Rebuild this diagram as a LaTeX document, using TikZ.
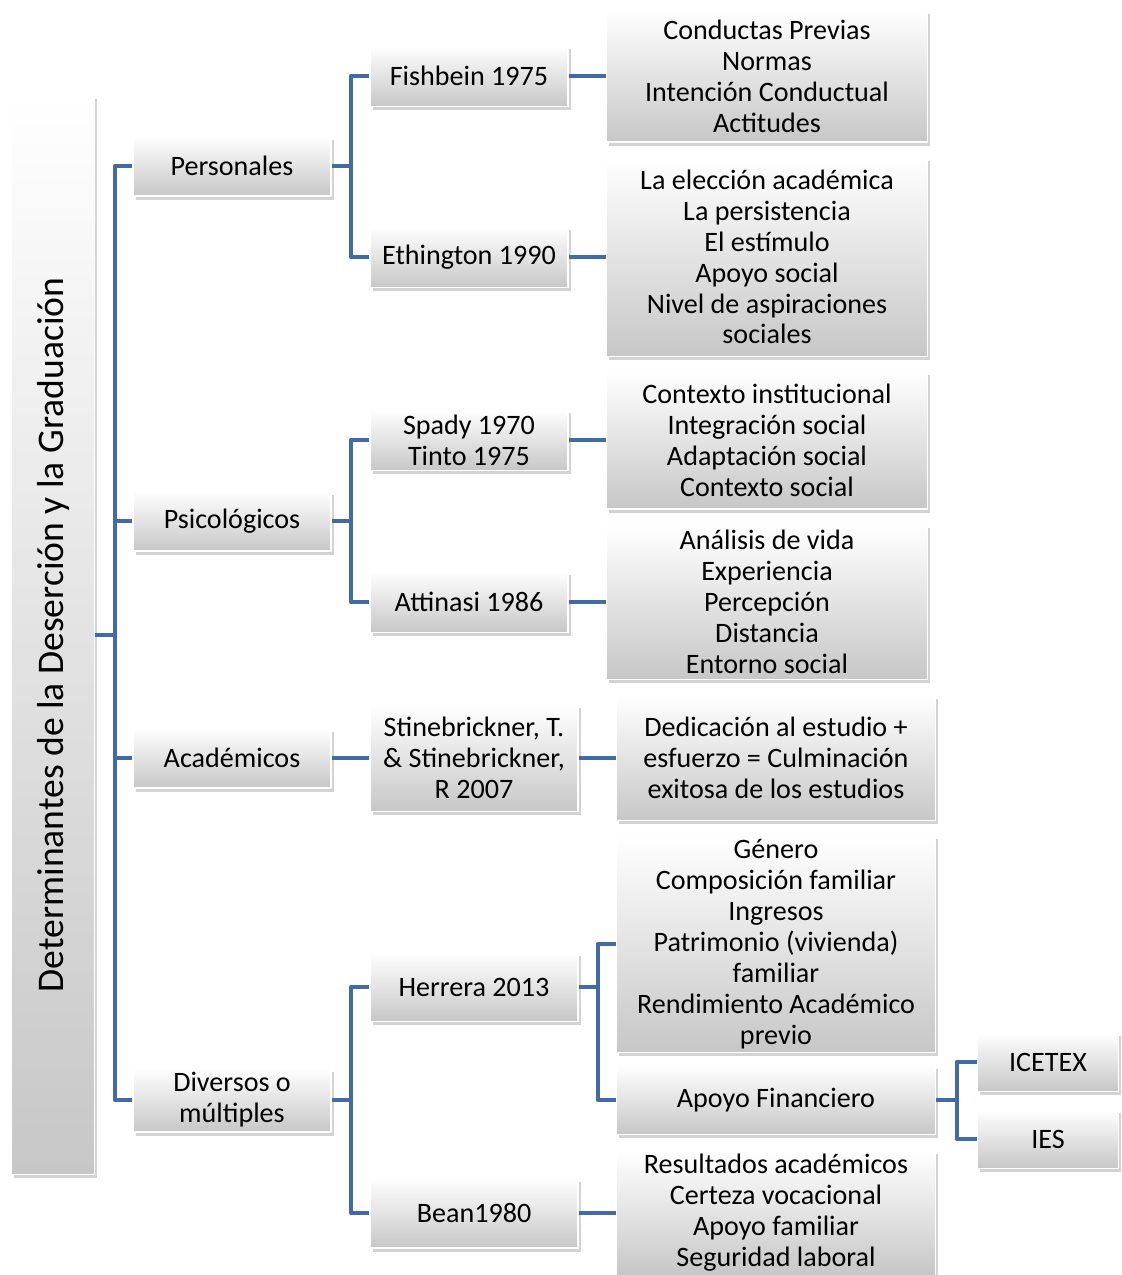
\documentclass[tikz,border=0pt]{standalone}
\usepackage{fontspec}
\setmainfont{Carlito}
\usetikzlibrary{shadows}
\definecolor{linkblue}{RGB}{66,106,166}
\tikzset{
  caja/.style={shape=rectangle, top color=white, bottom color=black!22,
    draw=white, line width=0.6pt, align=center, inner sep=2pt,
    font=\fontsize{16}{17.6}\selectfont,
    drop shadow={opacity=0.35, shadow xshift=1.5pt, shadow yshift=-2pt}},
  enlace/.style={draw=linkblue, line width=2.6pt, line join=round}
}
\begin{document}
\begin{tikzpicture}[x=0.02cm,y=-0.02cm]
\useasboundingbox (0,0) rectangle (1122,1275);
% raiz
\node[caja, rotate=90, minimum width=21.6cm, minimum height=1.66cm,
  font=\fontsize{21.4}{23}\selectfont] (raiz) at (53,635)
  {Determinantes de la Deserción y la Graduación};
% primer nivel
\node[caja, minimum width=3.96cm, minimum height=1.2cm] (pers) at (232,166) {Personales};
\node[caja, minimum width=3.96cm, minimum height=1.2cm] (psic) at (232,521) {Psicológicos};
\node[caja, minimum width=3.96cm, minimum height=1.2cm] (acad) at (232,758) {Académicos};
\node[caja, minimum width=3.96cm, minimum height=1.28cm] (div) at (232,1100) {Diversos o\\múltiples};
% segundo nivel
\node[caja, minimum width=3.96cm, minimum height=1.22cm] (fish) at (469,76) {Fishbein 1975};
\node[caja, minimum width=3.96cm, minimum height=1.22cm] (eth) at (469,257) {Ethington 1990};
\node[caja, minimum width=3.96cm, minimum height=1.22cm] (spady) at (469,440) {Spady 1970\\Tinto 1975};
\node[caja, minimum width=3.96cm, minimum height=1.22cm] (att) at (469,602) {Attinasi 1986};
\node[caja, minimum width=4.16cm, minimum height=2.14cm] (stine) at (474,758) {Stinebrickner, T.\\\& Stinebrickner,\\R 2007};
\node[caja, minimum width=4.16cm, minimum height=1.38cm] (herr) at (474,987) {Herrera 2013};
\node[caja, minimum width=4.16cm, minimum height=1.4cm] (bean) at (474,1213) {Bean1980};
% tercer nivel
\node[caja, minimum width=6.42cm, minimum height=2.64cm] (cond) at (767,76)
  {Conductas Previas\\Normas\\Intención Conductual\\Actitudes};
\node[caja, minimum width=6.42cm, minimum height=3.98cm] (elec) at (767,257)
  {La elección académica\\La persistencia\\El estímulo\\Apoyo social\\Nivel de aspiraciones\\sociales};
\node[caja, minimum width=6.42cm, minimum height=2.76cm] (ctx) at (767,440)
  {Contexto institucional\\Integración social\\Adaptación social\\Contexto social};
\node[caja, minimum width=6.42cm, minimum height=3.1cm] (anal) at (767,602)
  {Análisis de vida\\Experiencia\\Percepción\\Distancia\\Entorno social};
\node[caja, minimum width=6.38cm, minimum height=2.5cm] (dedic) at (776,758)
  {Dedicación al estudio +\\esfuerzo = Culminación\\exitosa de los estudios};
\node[caja, minimum width=6.38cm, minimum height=4.24cm] (gen) at (776,944)
  {Género\\Composición familiar\\Ingresos\\Patrimonio (vivienda)\\familiar\\Rendimiento Académico\\previo};
\node[caja, minimum width=6.38cm, minimum height=1.38cm] (apoyo) at (776,1100) {Apoyo Financiero};
\node[caja, minimum width=6.38cm, minimum height=2.46cm] (res) at (776,1213)
  {Resultados académicos\\Certeza vocacional\\Apoyo familiar\\Seguridad laboral};
% cuarto nivel
\node[caja, minimum width=2.82cm, minimum height=1.18cm] (icetex) at (1048,1062) {ICETEX};
\node[caja, minimum width=2.82cm, minimum height=1.18cm] (ies) at (1048,1139) {IES};
% conexiones
\coordinate (j0) at (115,635);
\coordinate (j1) at (351,166);
\coordinate (j2) at (351,521);
\coordinate (j3) at (351,1100);
\coordinate (j4) at (598,987);
\coordinate (j5) at (957,1100);
\draw[enlace] (raiz.south) -- (j0);
\foreach \n in {pers,psic,acad,div}
  \draw[enlace] (j0) |- (\n.west);
\draw[enlace] (pers.east) -- (j1);
\foreach \n in {fish,eth}
  \draw[enlace] (j1) |- (\n.west);
\draw[enlace] (psic.east) -- (j2);
\foreach \n in {spady,att}
  \draw[enlace] (j2) |- (\n.west);
\draw[enlace] (div.east) -- (j3);
\foreach \n in {herr,bean}
  \draw[enlace] (j3) |- (\n.west);
\draw[enlace] (acad.east) -- (stine.west);
\draw[enlace] (fish.east) -- (cond.west);
\draw[enlace] (eth.east) -- (elec.west);
\draw[enlace] (spady.east) -- (ctx.west);
\draw[enlace] (att.east) -- (anal.west);
\draw[enlace] (stine.east) -- (dedic.west);
\draw[enlace] (bean.east) -- (res.west);
\draw[enlace] (herr.east) -- (j4);
\foreach \n in {gen,apoyo}
  \draw[enlace] (j4) |- (\n.west);
\draw[enlace] (apoyo.east) -- (j5);
\foreach \n in {icetex,ies}
  \draw[enlace] (j5) |- (\n.west);
\end{tikzpicture}
\end{document}
